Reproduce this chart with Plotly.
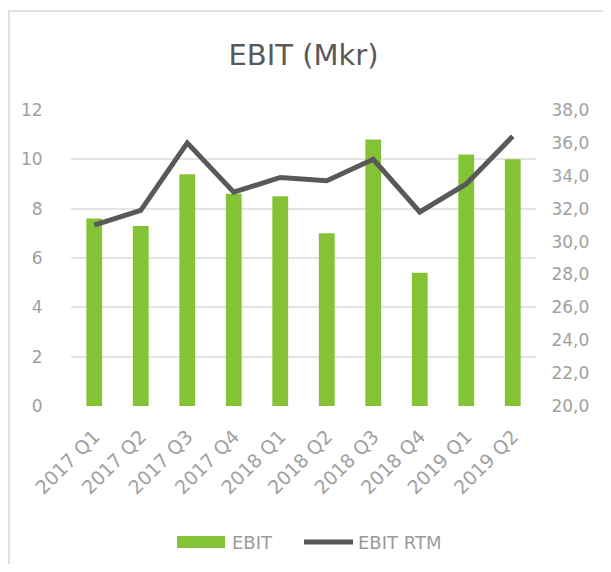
import plotly.graph_objects as go

categories = ["2017 Q1", "2017 Q2", "2017 Q3", "2017 Q4", "2018 Q1",
              "2018 Q2", "2018 Q3", "2018 Q4", "2019 Q1", "2019 Q2"]
ebit = [7.6, 7.3, 9.4, 8.6, 8.5, 7.0, 10.8, 5.4, 10.2, 10.0]
ebit_rtm = [31.0, 31.9, 36.0, 33.0, 33.9, 33.7, 35.0, 31.8, 33.5, 36.4]

FONT = "DejaVu Sans"
TICK_COLOR = "#a0a0a0"
BAR_COLOR = "#84C236"
LINE_COLOR = "#595959"

fig = go.Figure()
fig.add_trace(go.Bar(
    x=categories, y=ebit, name="EBIT",
    marker=dict(color=BAR_COLOR, line=dict(width=0)),
    yaxis="y", showlegend=False,
))
fig.add_trace(go.Scatter(
    x=categories, y=ebit_rtm, name="EBIT RTM", mode="lines",
    line=dict(color=LINE_COLOR, width=5),
    yaxis="y2", showlegend=False,
))

# page body has an 8px margin; work in figure pixel coords
OFF = 8
W, H = 603, 556
L, R, T, B = 71 - OFF, 75, 110 - OFF, 158
pw, ph = W - L - R, H - T - B


def px_x(x):
    return (x - OFF - L) / pw


def px_y(y):
    return (H - B - (y - OFF)) / ph


shapes = [
    dict(type="rect", xref="paper", yref="paper",
         x0=px_x(9), x1=px_x(650), y0=px_y(650), y1=px_y(11),
         line=dict(color="#e0e0e0", width=2), fillcolor="rgba(0,0,0,0)",
         layer="below"),
    # legend swatches
    dict(type="rect", xref="paper", yref="paper",
         x0=px_x(177), x1=px_x(225), y0=px_y(548), y1=px_y(536),
         line=dict(width=0), fillcolor=BAR_COLOR),
    dict(type="line", xref="paper", yref="paper",
         x0=px_x(304), x1=px_x(353), y0=px_y(542), y1=px_y(542),
         line=dict(color=LINE_COLOR, width=5)),
]

annotations = [
    dict(text="EBIT", xref="paper", yref="paper", x=px_x(230), y=px_y(542),
         xanchor="left", yanchor="middle", showarrow=False,
         font=dict(family=FONT, size=18, color="#9a9a9a")),
    dict(text="EBIT RTM", xref="paper", yref="paper", x=px_x(356), y=px_y(542),
         xanchor="left", yanchor="middle", showarrow=False,
         font=dict(family=FONT, size=18, color="#9a9a9a")),
]

fig.update_layout(
    width=W, height=H,
    margin=dict(l=L, r=R, t=T, b=B, autoexpand=False),
    paper_bgcolor="white", plot_bgcolor="white",
    separators=", ",
    font=dict(family=FONT, color=TICK_COLOR, size=17),
    title=dict(text="EBIT (Mkr)", x=0.5, xref="paper", xanchor="center",
               y=1 - (55 - OFF) / H, yanchor="middle",
               font=dict(family=FONT, size=29, color="#595959")),
    bargap=0.66,
    showlegend=False,
    xaxis=dict(
        type="category", showgrid=False, zeroline=False, showline=False,
        tickangle=-45, ticks="outside", ticklen=11, tickcolor="rgba(0,0,0,0)",
        tickfont=dict(family=FONT, size=19, color=TICK_COLOR),
    ),
    yaxis=dict(
        range=[0, 12], tickvals=[0, 2, 4, 6, 8, 10, 12],
        showgrid=True, gridcolor="#e4e4e4", gridwidth=2,
        zeroline=False, showline=False,
        ticks="outside", ticklen=24, tickcolor="rgba(0,0,0,0)",
        tickfont=dict(family=FONT, size=17, color=TICK_COLOR),
    ),
    yaxis2=dict(
        range=[20, 38], tickvals=[20, 22, 24, 26, 28, 30, 32, 34, 36, 38],
        tickformat=".1f", overlaying="y", side="right",
        showgrid=False, zeroline=False, showline=False,
        ticks="outside", ticklen=11, tickcolor="rgba(0,0,0,0)",
        tickfont=dict(family=FONT, size=17, color=TICK_COLOR),
    ),
    shapes=shapes,
    annotations=annotations,
)

fig.write_html("out.html")
